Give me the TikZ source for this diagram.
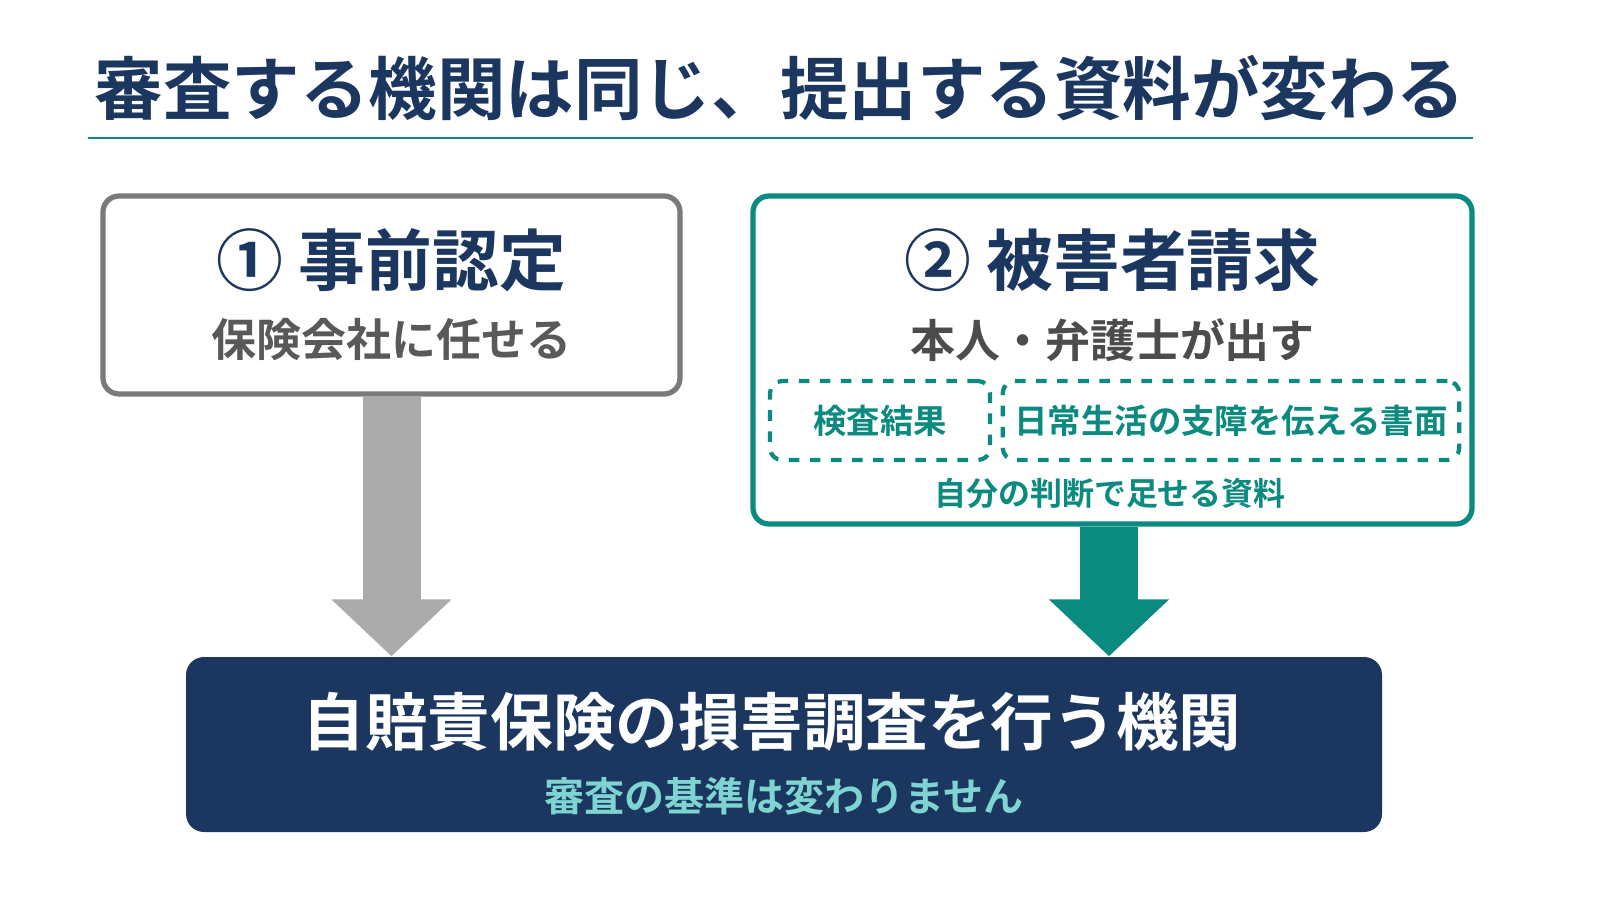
\documentclass[tikz,border=0pt]{standalone}
\usepackage{fontspec}
\setmainfont{Noto Sans CJK JP}[BoldFont={* Bold}]
\usetikzlibrary{positioning,arrows.meta}
\definecolor{navy}{HTML}{1B365F}
\definecolor{tealc}{HTML}{0B8A80}
\definecolor{greyb}{HTML}{7A7A7A}
\definecolor{greya}{HTML}{ABABAB}
\definecolor{lightteal}{HTML}{7ED4D0}
\tikzset{
        % Main boxes
        box/.style={draw, rounded corners=0.16cm, line width=1.5pt, fill=white},
        % Dashed document boxes
        docbox/.style={draw=tealc, dashed, rounded corners=0.12cm, line width=1.2pt, minimum height=0.79cm, font=\bfseries\fontsize{9.5}{11}\selectfont, text=tealc},
        % Down arrows
        bigarrow/.style={line width=0.58cm, -{Triangle[width=1.17cm,length=0.57cm]}}
}
\begin{document}
\begin{tikzpicture}[x=1cm,y=1cm]
    \useasboundingbox (0,0) rectangle (16,9);
    \node (title) at (7.8,8.12) {\bfseries\fontsize{19.5}{22}\selectfont\color{navy}審査する機関は同じ、提出する資料が変わる};
    \draw[tealc, line width=0.8pt] (0.88,7.62) -- (14.73,7.62);
    % Left box
    \node[box, draw=greyb, minimum width=5.77cm, minimum height=1.98cm] (pre) at (3.915,6.05) {};
    \node (prehead) at (3.915,6.4) {\bfseries\fontsize{19}{22}\selectfont\color{navy}① 事前認定};
    \node (presub) at (3.915,5.6) {\bfseries\fontsize{12.8}{15}\selectfont\color{black!65}保険会社に任せる};
    % Right box
    \node[box, draw=tealc, minimum width=7.19cm, minimum height=3.28cm] (vic) at (11.125,5.40) {};
    \node (vichead) at (11.125,6.4) {\bfseries\fontsize{19}{22}\selectfont\color{navy}② 被害者請求};
    \node (vicsub) at (11.125,5.6) {\bfseries\fontsize{12.8}{15}\selectfont\color{black!70}本人・弁護士が出す};
    \node[docbox, minimum width=2.2cm] (test) at (8.8,4.795) {検査結果};
    \node[docbox, minimum width=4.48cm] (paper) at (12.31,4.795) {日常生活の支障を伝える書面};
    \node (own) at (11.1,4.07) {\bfseries\fontsize{9.1}{11}\selectfont\color{tealc}自分の判断で足せる資料};
    % Bottom box
    \node[fill=navy, rounded corners=0.18cm, minimum width=11.96cm, minimum height=1.75cm] (org) at (7.84,1.555) {};
    \node (orghead) at (7.72,1.78) {\bfseries\fontsize{17.8}{21}\selectfont\color{white}自賠責保険の損害調査を行う機関};
    \node (orgsub) at (7.84,1.04) {\bfseries\fontsize{11.4}{13}\selectfont\color{lightteal}審査の基準は変わりません};
    % Arrows
    \draw[bigarrow, greya] (pre.south) -- (pre.south |- org.north);
    \draw[bigarrow, tealc] ([xshift=-0.035cm]vic.south) coordinate (vicout) -- (vicout |- org.north);
\end{tikzpicture}
\end{document}
